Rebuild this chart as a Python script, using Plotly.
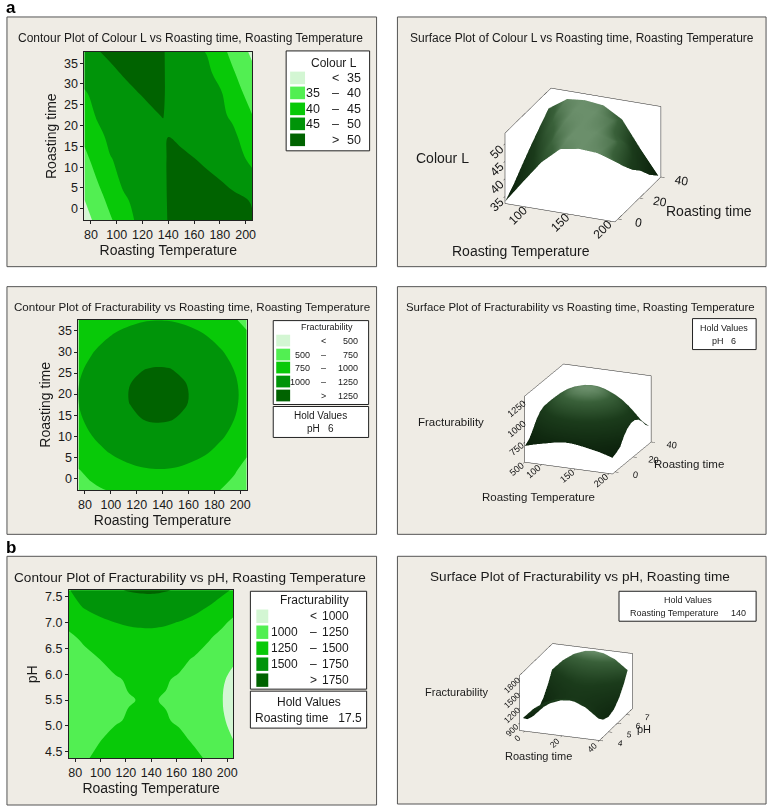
import plotly.graph_objects as go

W, H = 778, 808

# ---------------- data ----------------
# (a) top row: Colour L over Roasting Temperature x Roasting time
temp_a = [75, 85, 95, 105, 115, 125, 136, 140, 150, 160, 170, 180, 190, 205]
time_a = [-2.8, 2, 7, 12, 17.5, 22.5, 27.5, 32.5, 37.7]
colour_l = [
    [33.5, 36.0, 39.4, 42.5, 45.4, 46.0, 46.0, 50.9, 52.0, 52.0, 52.0, 52.0, 51.3, 50.3],
    [34.9, 38.0, 41.3, 44.2, 46.0, 46.0, 46.0, 51.5, 52.0, 52.0, 52.0, 51.6, 50.9, 49.8],
    [36.9, 40.1, 43.0, 45.9, 46.0, 46.0, 46.0, 52.0, 52.0, 52.0, 51.0, 50.0, 49.0, 46.3],
    [38.9, 41.8, 44.8, 46.0, 46.0, 46.0, 46.1, 52.0, 51.1, 50.1, 49.0, 48.0, 47.0, 44.0],
    [41.0, 43.8, 46.0, 46.0, 46.0, 46.9, 48.3, 49.9, 48.9, 47.9, 46.8, 46.0, 46.0, 41.9],
    [42.8, 45.5, 46.0, 46.3, 47.6, 48.9, 50.3, 47.9, 46.9, 46.0, 46.0, 46.0, 44.2, 40.1],
    [44.6, 46.0, 46.9, 48.3, 49.6, 50.9, 52.0, 46.0, 46.0, 46.0, 46.0, 45.7, 42.4, 38.1],
    [46.2, 47.6, 48.9, 50.3, 51.6, 52.0, 52.0, 46.0, 46.0, 46.0, 46.0, 43.6, 40.6, 36.2],
    [47.9, 49.7, 51.0, 52.0, 52.0, 52.0, 51.7, 46.0, 46.0, 46.0, 44.8, 41.8, 38.6, 34.1],
]
# coarser grid for the surface view of Colour L
temp_as = [75, 97, 118, 140, 162, 184, 205]
time_as = [-2.8, 5, 13, 21, 29, 37.7]
colour_l_surf = [
    [33.5, 40.2, 46.4, 51.0, 52.0, 51.7, 50.1],
    [36.0, 43.1, 49.0, 51.9, 52.0, 51.0, 46.5],
    [39.2, 45.8, 50.6, 52.0, 51.9, 50.3, 43.1],
    [42.2, 48.5, 51.6, 52.0, 51.2, 47.8, 40.4],
    [45.0, 50.4, 52.0, 52.0, 50.5, 43.9, 36.9],
    [47.9, 51.5, 52.0, 51.4, 48.3, 40.7, 34.0],
]
colour_levels = [35, 40, 45, 50]

# (a) middle row: Fracturability over Roasting Temperature x Roasting time, pH 6
temp_f = [75, 85, 95, 105, 115, 125, 135, 145, 155, 165, 175, 185, 195, 205]
time_f = [-2.8, 2, 6, 10, 14, 18, 22, 26, 30, 34, 37.7]
fract_tt = [
    [700, 725, 747, 765, 785, 800, 810, 808, 797, 782, 766, 749, 725, 700],
    [745, 786, 859, 916, 957, 984, 994, 990, 970, 934, 883, 817, 760, 725],
    [822, 906, 978, 1035, 1077, 1103, 1114, 1109, 1089, 1054, 1002, 936, 854, 758],
    [912, 995, 1067, 1124, 1166, 1192, 1203, 1198, 1178, 1143, 1092, 1026, 944, 852],
    [971, 1054, 1126, 1183, 1225, 1251, 1262, 1257, 1237, 1202, 1151, 1085, 1003, 911],
    [999, 1083, 1155, 1212, 1254, 1280, 1291, 1286, 1266, 1231, 1179, 1113, 1031, 940],
    [998, 1081, 1153, 1211, 1252, 1278, 1289, 1284, 1264, 1229, 1178, 1112, 1030, 938],
    [966, 1049, 1122, 1179, 1220, 1247, 1257, 1253, 1233, 1197, 1146, 1080, 998, 906],
    [904, 987, 1060, 1117, 1158, 1184, 1195, 1191, 1171, 1135, 1084, 1018, 936, 844],
    [812, 895, 968, 1025, 1066, 1093, 1103, 1099, 1079, 1043, 992, 926, 844, 765],
    [760, 786, 859, 916, 957, 984, 994, 990, 970, 934, 883, 817, 760, 720],
]
fract_tt_levels = [500, 750, 1000, 1250]

# (b) Fracturability over Roasting Temperature x pH, Roasting time 17.5
temp_p = [75, 88, 100, 112, 122, 130, 137, 144, 152, 162, 174, 186, 196, 205]
ph_p = [4.37, 4.75, 5.1, 5.5, 5.9, 6.3, 6.7, 7.0, 7.3, 7.63]
fract_ph = [
    [1184, 1235, 1290, 1378, 1402, 1412, 1415, 1412, 1399, 1370, 1285, 1225, 1164, 1082],
    [1095, 1182, 1244, 1289, 1313, 1323, 1326, 1323, 1310, 1281, 1227, 1153, 1075, 993],
    [1045, 1132, 1194, 1238, 1262, 1273, 1276, 1272, 1260, 1231, 1177, 1103, 1025, 943],
    [1025, 1112, 1174, 1219, 1243, 1253, 1256, 1253, 1240, 1211, 1157, 1083, 1005, 923],
    [1045, 1132, 1194, 1238, 1262, 1273, 1276, 1272, 1260, 1231, 1177, 1103, 1025, 943],
    [1105, 1192, 1254, 1298, 1322, 1333, 1336, 1332, 1320, 1291, 1237, 1163, 1100, 1030],
    [1205, 1291, 1353, 1398, 1422, 1432, 1435, 1432, 1419, 1390, 1337, 1262, 1185, 1102],
    [1306, 1392, 1454, 1499, 1523, 1533, 1536, 1533, 1520, 1491, 1438, 1363, 1286, 1203],
    [1429, 1515, 1577, 1622, 1646, 1657, 1659, 1656, 1643, 1614, 1561, 1487, 1409, 1327],
    [1490, 1610, 1700, 1738, 1758, 1770, 1775, 1772, 1758, 1735, 1690, 1620, 1545, 1480],
]
fract_ph_levels = [1000, 1250, 1500, 1750]

# (b) surface: Fracturability over Roasting time x pH, Roasting Temperature 140
time_s = [-2.8, 3, 9, 15, 20, 25, 31, 37.7]
ph_s = [4.37, 4.9, 5.5, 6.1, 6.7, 7.2, 7.63]
fract_s = [
    [933, 1149, 1305, 1393, 1415, 1389, 1297, 1113],
    [819, 1035, 1191, 1279, 1301, 1275, 1183, 999],
    [774, 990, 1146, 1234, 1256, 1230, 1138, 954],
    [819, 1035, 1191, 1279, 1301, 1275, 1183, 999],
    [953, 1169, 1325, 1413, 1435, 1409, 1317, 1133],
    [1134, 1350, 1506, 1594, 1616, 1590, 1498, 1314],
    [1339, 1555, 1711, 1799, 1821, 1795, 1703, 1519],
]

greens = ["#d3f6d3", "#52ef52", "#08c908", "#009409", "#006300"]
panel_bg = "#efece5"
surf_scale = [[0, "#0e2a0e"], [0.55, "#244f24"], [0.85, "#4d814d"], [1, "#8fbf8f"]]
FONT = "Liberation Sans"


def fx(x):
    return x / W


def fy(y):
    return 1 - y / H


shapes = []
annotations = []


def rect(x0, y0, x1, y1, fill, line="#444", lw=1):
    shapes.append(dict(type="rect", xref="paper", yref="paper",
                       x0=fx(x0), y0=fy(y1), x1=fx(x1), y1=fy(y0),
                       fillcolor=fill, line=dict(color=line, width=lw), layer="below"))


def text(x, y, s, size=11, anchor="center", color="#1a1a1a", bold=False):
    if bold:
        s = "<b>" + s + "</b>"
    annotations.append(dict(x=fx(x), y=fy(y), xref="paper", yref="paper", text=s,
                            showarrow=False, xanchor=anchor, yanchor="middle",
                            font=dict(family=FONT, size=size, color=color)))


def legend(box, header, levels, rows_y, sw_x, left_r, dash_c, right_r, size, hsize):
    x0, y0, x1, y1 = box
    rect(x0, y0, x1, y1, "white", "#222")
    text((x0 + x1) / 2 + 6, rows_y[0] - (rows_y[1] - rows_y[0]), header, hsize)
    n = len(levels)
    for i in range(n + 1):
        yy = rows_y[i]
        h = (rows_y[1] - rows_y[0]) * 0.42
        shapes.append(dict(type="rect", xref="paper", yref="paper",
                           x0=fx(sw_x[0]), x1=fx(sw_x[1]), y0=fy(yy + h), y1=fy(yy - h),
                           fillcolor=greens[i], line=dict(width=0)))
        if i == 0:
            text(dash_c, yy, "&lt;", size)
            text(right_r, yy, str(levels[0]), size, "right")
        elif i == n:
            text(dash_c, yy, "&gt;", size)
            text(right_r, yy, str(levels[-1]), size, "right")
        else:
            text(left_r, yy, str(levels[i - 1]), size, "right")
            text(dash_c, yy, "–", size)
            text(right_r, yy, str(levels[i]), size, "right")


def hold_box(box, line2, size):
    x0, y0, x1, y1 = box
    rect(x0, y0, x1, y1, "white", "#222")
    cx = (x0 + x1) / 2
    text(cx, y0 + (y1 - y0) * 0.3, "Hold Values", size)
    text(cx, y0 + (y1 - y0) * 0.72, line2, size)


# panel frames
frames = [(6, 17, 378, 267), (399, 17, 770, 267), (6, 287, 378, 535),
          (399, 287, 770, 535), (6, 557, 378, 806), (399, 557, 770, 805)]
for f in frames:
    rect(*f, panel_bg, "#555")

text(3, 8, "a", 17, "left", "#000", True)
text(3, 548, "b", 17, "left", "#000", True)

# titles
text(191, 38, "Contour Plot of Colour L vs Roasting time, Roasting Temperature", 12)
text(585, 38, "Surface Plot of Colour L vs Roasting time, Roasting Temperature", 12)
text(192, 307, "Contour Plot of Fracturability vs Roasting time, Roasting Temperature", 11.6)
text(583, 307, "Surface Plot of Fracturability vs Roasting time, Roasting Temperature", 11.4)
text(190, 578, "Contour Plot of Fracturability vs pH, Roasting Temperature", 13.6)
text(583, 577, "Surface Plot of Fracturability vs pH, Roasting time", 13.6)

# legends and hold values
legend((287, 51, 371, 151), "Colour L", colour_levels, [78, 93, 109, 124, 140],
       (291, 306), 323, 337, 364, 12.5, 12)
legend((274, 321, 370, 405), "Fracturability", fract_tt_levels, [341, 355, 368, 382, 396],
       (277, 291), 313, 325, 361, 9, 9)
hold_box((274, 407, 370, 438), "pH&nbsp;&nbsp;&nbsp;6", 10)
legend((251, 592, 368, 690), "Fracturability", fract_ph_levels, [617, 633, 649, 665, 681],
       (257, 269), 301, 315, 352, 12, 12)
hold_box((251, 692, 368, 729), "Roasting time&nbsp;&nbsp;&nbsp;17.5", 12)
hold_box((696, 319, 760, 350), "pH&nbsp;&nbsp;&nbsp;6", 9)
hold_box((622, 592, 760, 622), "Roasting Temperature&nbsp;&nbsp;&nbsp;&nbsp;&nbsp;140", 9)

# surface axis titles (Minitab writes them flat on the page)
text(444, 158, "Colour L", 14)
text(713, 211, "Roasting time", 14)
text(523, 251, "Roasting Temperature", 14)
text(453, 423, "Fracturability", 11.5)
text(692, 465, "Roasting time", 11.5)
text(541, 498, "Roasting Temperature", 11.5)
text(458, 693, "Fracturability", 11)
text(541, 757, "Roasting time", 11)
text(647, 730, "pH", 11)


def cscale():
    return [[i / 4, c] for i, c in enumerate(greens)]


def contour(x, y, z, levels, xa, ya):
    return go.Contour(x=x, y=y, z=z, xaxis=xa, yaxis=ya, autocontour=False,
                      contours=dict(start=levels[0], end=levels[-1],
                                    size=levels[1] - levels[0], coloring="fill",
                                    showlines=False),
                      colorscale=cscale(), showscale=False, line=dict(smoothing=1.1, width=0),
                      hoverinfo="skip")


def surface(x, y, z, sc):
    return go.Surface(x=x, y=y, z=z, scene=sc, showscale=False, colorscale=surf_scale,
                      lighting=dict(ambient=0.75, diffuse=0.5, specular=0.35,
                                    roughness=0.5, fresnel=0.2),
                      lightposition=dict(x=-1000, y=-2000, z=10000), hoverinfo="skip")


fig = go.Figure()
fig.add_trace(contour(temp_a, time_a, colour_l, colour_levels, "x", "y"))
fig.add_trace(contour(temp_f, time_f, fract_tt, fract_tt_levels, "x2", "y2"))
fig.add_trace(contour(temp_p, ph_p, fract_ph, fract_ph_levels, "x3", "y3"))
fig.add_trace(surface(temp_as, time_as, colour_l_surf, "scene"))
fig.add_trace(surface(temp_f, time_f, fract_tt, "scene2"))
fig.add_trace(surface(time_s, ph_s, fract_s, "scene3"))


def cart_axis(dom, rng, title, dtick, standoff, anchor, fmt=None, tick0=0):
    d = dict(domain=dom, range=rng, dtick=dtick, tick0=tick0, ticks="outside", ticklen=3,
             tickcolor="#222", showline=True, linecolor="#222", mirror=True,
             showgrid=False, zeroline=False, anchor=anchor,
             tickfont=dict(family=FONT, size=12.5, color="#1a1a1a"),
             title=dict(text=title, standoff=standoff,
                        font=dict(family=FONT, size=14, color="#1a1a1a")))
    if fmt:
        d["tickformat"] = fmt
    return d


temp_rng = [75, 205]
time_rng = [-2.8, 37.7]

layout = dict(
    width=W, height=H, margin=dict(l=0, r=0, t=0, b=0),
    paper_bgcolor="white", plot_bgcolor="white", showlegend=False,
    xaxis=cart_axis([fx(84), fx(252.7)], temp_rng, "Roasting Temperature", 20, 3, "y"),
    yaxis=cart_axis([fy(220.7), fy(52)], time_rng, "Roasting time", 5, 4, "x"),
    xaxis2=cart_axis([fx(78), fx(247.3)], temp_rng, "Roasting Temperature", 20, 3, "y2"),
    yaxis2=cart_axis([fy(490.7), fy(320)], time_rng, "Roasting time", 5, 4, "x2"),
    xaxis3=cart_axis([fx(68.3), fx(234)], temp_rng, "Roasting Temperature", 20, 3, "y3"),
    yaxis3=cart_axis([fy(759.3), fy(591)], [4.37, 7.63], "pH", 0.5, 4, "x3", ".1f", 4.5),
    shapes=shapes, annotations=annotations,
)


def ax3(rng, tickvals, size=11):
    return dict(title=dict(text=""), range=rng, tickvals=tickvals, showgrid=False,
                zeroline=False, showbackground=True, backgroundcolor="white",
                showline=True, linecolor="#222", linewidth=1, mirror=True,
                ticks="outside", ticklen=4, tickcolor="#222", showspikes=False,
                tickfont=dict(family=FONT, size=size, color="#1a1a1a"))


def camera(ex, ey, ez):
    return dict(eye=dict(x=ex, y=ey, z=ez), up=dict(x=0, y=0, z=1),
                center=dict(x=0, y=0, z=0), projection=dict(type="orthographic"))


layout["scene"] = dict(
    domain=dict(x=[fx(410.5), fx(760.5)], y=[fy(255), fy(55)]),
    xaxis=ax3(temp_rng, [100, 150, 200], 12),
    yaxis=ax3([-2.8, 40], [0, 20, 40], 12),
    zaxis=ax3([33, 53], [35, 40, 45, 50], 12),
    aspectmode="manual", aspectratio=dict(x=1.19, y=1.2, z=0.77),
    camera=camera(0.649, -1.567, 0.751), bgcolor="rgba(0,0,0,0)")
layout["scene2"] = dict(
    domain=dict(x=[fx(415.8), fx(765.8)], y=[fy(509), fy(329)]),
    xaxis=ax3(temp_rng, [100, 150, 200], 10.5),
    yaxis=ax3([-2.8, 40], [0, 20, 40], 10.5),
    zaxis=ax3([500, 1320], [500, 750, 1000, 1250], 10.5),
    aspectmode="manual", aspectratio=dict(x=1.05, y=1.15, z=0.78),
    camera=camera(0.92, -2.28, 0.87), bgcolor="rgba(0,0,0,0)")
layout["scene3"] = dict(
    domain=dict(x=[fx(403.4), fx(753.4)], y=[fy(778), fy(608)]),
    xaxis=ax3([-2.8, 40], [0, 20, 40], 10),
    yaxis=ax3([4, 7.7], [4, 5, 6, 7], 10),
    zaxis=ax3([750, 1850], [900, 1200, 1500, 1800], 10),
    aspectmode="manual", aspectratio=dict(x=1.0, y=1.15, z=0.69),
    camera=camera(0.86, -2.39, 0.94), bgcolor="rgba(0,0,0,0)")

fig.update_layout(layout)
fig.write_html("out.html", config={"displayModeBar": False},
               post_script="document.body.style.margin='0px';")
